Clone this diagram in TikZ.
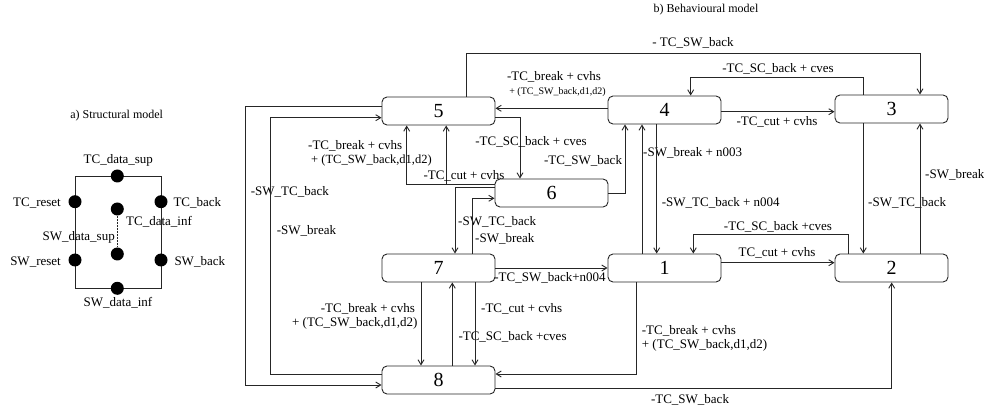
\documentclass[tikz,border=0pt]{standalone}
\usepackage{fontspec}
\setmainfont{Liberation Serif}
\usetikzlibrary{arrows.meta}
\begin{document}
\begin{tikzpicture}[x=1pt,y=-1pt,
  state/.style={draw=black!85,line width=0.9pt,rounded corners=5pt,minimum width=113pt,minimum height=28pt,inner sep=0pt,font=\fontsize{20}{20}\selectfont},
  lbl/.style={inner sep=0pt,font=\fontsize{13}{14}\selectfont},
  slbl/.style={inner sep=0pt,font=\fontsize{10}{11}\selectfont},
  mlbl/.style={inner sep=0pt,font=\fontsize{12.5}{13}\selectfont},
  ttl/.style={inner sep=0pt,font=\fontsize{12}{13}\selectfont},
  arr/.style={draw=black!85,line width=0.9pt,-{Straight Barb[length=5pt,width=6pt]}},
  ln/.style={draw=black!85,line width=0.9pt},
  dot/.style={circle,fill=black,minimum size=13pt,inner sep=0pt}]
\useasboundingbox (0,0) rectangle (984,411);

% ---------- a) structural model ----------
\node[ttl] (ta) at (116.7,115.7) {a) Structural model};
\draw[ln] (75,176) rectangle (161,288.3);
\node[dot] (dtop) at (117.3,176) {};
\node[dot] (dtcr) at (75,201.7) {};
\node[dot] (dtcb) at (161,201.7) {};
\node[dot] (dinA) at (117.3,209) {};
\node[dot] (dinB) at (117.3,254) {};
\node[dot] (dswr) at (75,260) {};
\node[dot] (dswb) at (161,260) {};
\node[dot] (dbot) at (117.3,288.3) {};
\draw[ln,dashed,dash pattern=on 2pt off 1pt] (dinA) -- (dinB);
\node[lbl] (s1) at (118.3,160) {TC\_data\_sup};
\node[lbl,anchor=east] (s2) at (61,202.7) {TC\_reset};
\node[lbl,anchor=west] (s3) at (173.3,202.7) {TC\_back};
\node[lbl,anchor=west] (s4) at (126,221.7) {TC\_data\_inf};
\node[lbl,anchor=east] (s5) at (115,237.7) {SW\_data\_sup};
\node[lbl,anchor=east] (s6) at (61,262.3) {SW\_reset};
\node[lbl,anchor=west] (s7) at (174.3,262.3) {SW\_back};
\node[lbl] (s8) at (118,303) {SW\_data\_inf};

% ---------- b) behavioural model ----------
\node[ttl] (tb) at (706,10) {b) Behavioural model};
\node[state] (n5) at (438.5,111) {5};
\node[state] (n4) at (664.5,110) {4};
\node[state] (n3) at (891.5,109) {3};
\node[state] (n6) at (551.5,193) {6};
\node[state] (n7) at (438.5,268) {7};
\node[state] (n1) at (664.5,268) {1};
\node[state] (n2) at (891.5,268) {2};
\node[state] (n8) at (438.5,380) {8};

% top: 5 -> 3
\draw[arr] (466.7,0 |- n5.north) -- (466.7,53) -- (920,53) -- (920,0 |- n3.north);
\node[lbl] (l1) at (693,43) {- TC\_SW\_back};
% 4 -> 5
\draw[arr] (n4.west |- 0,108.3) -- (n5.east |- 0,108.3);
\node[lbl] (l2a) at (554,77) {-TC\_break + cvhs};
\node[slbl] (l2b) at (557.5,92) {+ (TC\_SW\_back,d1,d2)};
% 3 -> 4
\draw[arr] (863,0 |- n3.north) -- (863,77.7) -- (690.7,77.7) -- (690.7,0 |- n4.north);
\node[lbl] (l3) at (778,69) {-TC\_SC\_back + cves};
% 4 -> 3
\draw[arr] (n4.east |- 0,111.7) -- (n3.west |- 0,111.7);
\node[lbl] (l4) at (777,122) {-TC\_cut + cvhs};
% 5 -> 6
\draw[arr] (n5.east |- 0,117.3) -- (520,117.3) -- (520,0 |- n6.north);
\node[lbl] (l5) at (531,142) {-TC\_SC\_back + cves};
% 6 -> 4
\draw[arr] (n6.east) -- (625,193) -- (625,0 |- n4.south);
\node[lbl] (l6) at (583,160.7) {-TC\_SW\_back};
% 1 -> 4
\draw[arr] (642,0 |- n1.north) -- (642,0 |- n4.south);
\node[lbl,anchor=west] (l7) at (643,152.7) {-SW\_break + n003};
% 4 -> 1
\draw[arr] (656.7,0 |- n4.south) -- (656.7,0 |- n1.north);
\node[lbl,anchor=west] (l8) at (661.7,203) {-SW\_TC\_back + n004};
% 2 -> 1
\draw[arr] (848.3,0 |- n2.north) -- (848.3,234.3) -- (693.3,234.3) -- (693.3,0 |- n1.north);
\node[lbl] (l9) at (778,227.3) {-TC\_SC\_back +cves};
% 1 -> 2
\draw[arr] (n1.east |- 0,262.7) -- (n2.west |- 0,262.7);
\node[lbl] (l10) at (777,252.7) {TC\_cut + cvhs};
% 3 -> 2
\draw[arr] (863.3,0 |- n3.south) -- (863.3,0 |- n2.north);
\node[lbl,anchor=west] (l11) at (868,203) {-SW\_TC\_back};
% 2 -> 3
\draw[arr] (920,0 |- n2.north) -- (920,0 |- n3.south);
\node[lbl,anchor=west] (l12) at (925,175) {-SW\_break};
% 8 -> 2
\draw[arr] (n8.east |- 0,388.3) -- (891.7,388.3) -- (891.7,0 |- n2.south);
\node[lbl] (l13) at (690,400) {-TC\_SW\_back};
% 1 -> 8
\draw[arr] (636.7,0 |- n1.south) -- (636.7,374) -- (n8.east |- 0,374);
\node[lbl,anchor=west] (l14a) at (641.7,331) {-TC\_break + cvhs};
\node[lbl,anchor=west] (l14b) at (641.7,345) {+ (TC\_SW\_back,d1,d2)};
% 7 -> 1
\draw[arr] (n7.east) -- (n1.west);
\node[lbl] (l15) at (550,278) {-TC\_SW\_back+n004};
% 5 -> 8 (outer)
\draw[arr] (n5.west |- 0,106) -- (245.7,106) -- (245.7,385) -- (n8.west |- 0,385);
\node[lbl,anchor=west] (l16) at (250.7,191.7) {-SW\_TC\_back};
% 8 -> 5 (inner)
\draw[arr] (n8.west |- 0,374.3) -- (270.7,374.3) -- (270.7,117.7) -- (n5.west |- 0,117.7);
\node[lbl,anchor=west] (l17) at (276.7,231) {-SW\_break};
% 6 -> 5
\draw[arr] (n6.west |- 0,184.3) -- (406.7,184.3) -- (406.7,0 |- n5.south);
\node[lbl,anchor=west] (l18a) at (308,146) {-TC\_break + cvhs};
\node[mlbl,anchor=west] (l18b) at (311,160) {+ (TC\_SW\_back,d1,d2)};
\draw[arr] (n6.west |- 0,184.3) -- (446.2,184.3) -- (446.2,0 |- n5.south);
\node[lbl] (l19) at (464,175.7) {-TC\_cut + cvhs};
% 6 -> 7
\draw[arr] (n6.west |- 0,187.3) -- (455,187.3) -- (455,0 |- n7.north);
\node[lbl,anchor=west] (l20) at (458,222) {-SW\_TC\_back};
% 7 -> 6
\draw[arr] (472.3,0 |- n7.north) -- (472.3,198.3) -- (n6.west |- 0,198.3);
\node[lbl,anchor=west] (l21) at (475,239) {-SW\_break};
% 7 -> 8
\draw[arr] (421,0 |- n7.south) -- (421,0 |- n8.north);
\node[lbl,anchor=east] (l22a) at (415,309.3) {-TC\_break + cvhs};
\node[lbl,anchor=east] (l22b) at (417.7,323.3) {+ (TC\_SW\_back,d1,d2)};
% 8 -> 7
\draw[arr] (452.3,0 |- n8.north) -- (452.3,0 |- n7.south);
\node[lbl,anchor=west] (l23) at (458.3,336.7) {-TC\_SC\_back +cves};
% 7 -> 8
\draw[arr] (475,0 |- n7.south) -- (475,0 |- n8.north);
\node[lbl,anchor=west] (l24) at (481,309.3) {-TC\_cut + cvhs};
\end{tikzpicture}
\end{document}
